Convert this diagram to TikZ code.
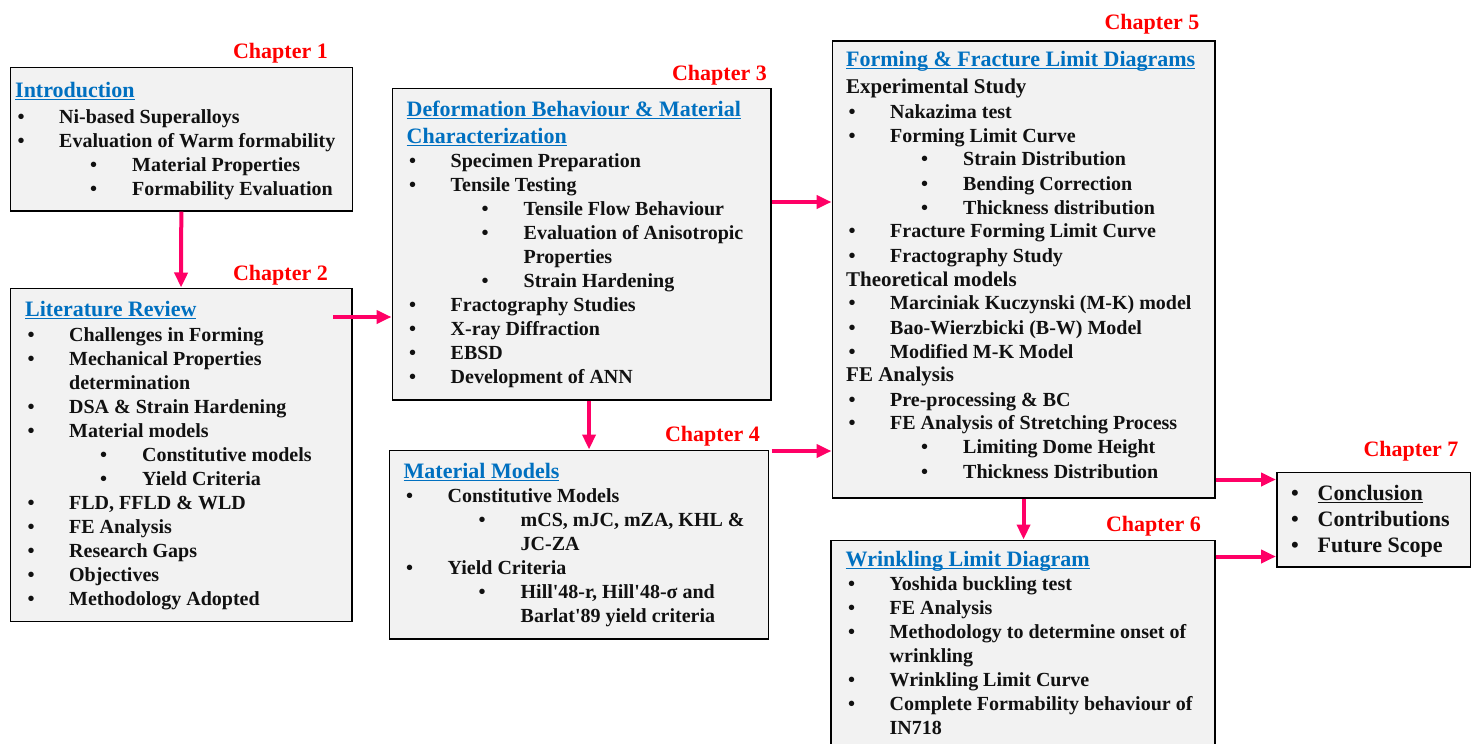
\documentclass[tikz,border=0pt]{standalone}
\usepackage{fontspec}
\setmainfont{Liberation Serif}
\usetikzlibrary{arrows.meta}

\definecolor{boxgray}{HTML}{F2F2F2}
\definecolor{titleblue}{HTML}{0070C0}
\definecolor{chapred}{HTML}{FF0000}
\definecolor{linkpink}{HTML}{FF0066}
\definecolor{ink}{HTML}{111111}

% fonts for the outline boxes
\newcommand\bodyfont{\fontsize{20}{24}\selectfont\bfseries}
\newcommand\titlefont{\fontsize{22}{24}\selectfont\bfseries\color{titleblue}}
\newcommand\hdrfont{\fontsize{21}{24}\selectfont\bfseries}

% underline sitting close to the baseline
\newsavebox\ulbox
\newcommand\ulin[1]{\sbox\ulbox{#1}\rlap{\rule[-2.8pt]{\wd\ulbox}{1.3pt}}\usebox\ulbox}
\newcommand\ttl[1]{{\titlefont\ulin{#1}}}
\newcommand\hdr[1]{{\hdrfont #1}}
% bullet levels and continuation lines
\newcommand\bl[1]{\hspace*{2.5pt}\makebox[41.5pt][l]{\textbullet}#1}
\newcommand\sbl[1]{\hspace*{75pt}\makebox[42pt][l]{\textbullet}#1}
\newcommand\cnt[1]{\hspace*{44pt}#1}
\newcommand\scnt[1]{\hspace*{117pt}#1}
\newcommand\apos{\textquotesingle}

\begin{document}
\begin{tikzpicture}[x=1pt,y=-1pt,
  box/.style={draw=black, line width=1.6pt, fill=boxgray, inner sep=0pt, anchor=north west},
  txt/.style={anchor=base west, inner sep=0pt, text=ink, font=\bodyfont},
  chap/.style={anchor=base east, inner sep=0pt, text=chapred, font=\fontsize{22}{24}\selectfont\bfseries},
  arr/.style={draw=linkpink, line width=4pt, -{Triangle[length=15pt,width=13pt]}}]
\useasboundingbox (0,0) rectangle (1478,744);
\clip (0,0) rectangle (1478,744);

% ---------- boxes ----------
\node[box, minimum width=342pt,   minimum height=143.5pt] (b1) at (9.5,66.5) {};
\node[box, minimum width=341.5pt, minimum height=333pt]   (b2) at (9.5,287.5) {};
\node[box, minimum width=378.5pt, minimum height=311.5pt] (b3) at (391.5,87.5) {};
\node[box, minimum width=379pt,   minimum height=188.5pt] (b4) at (388.5,449.5) {};
\node[box, minimum width=382.5pt, minimum height=457pt]   (b5) at (831.5,40) {};
\node[box, minimum width=384pt,   minimum height=220pt]   (b6) at (830,539.5) {};
\node[box, minimum width=193.5pt, minimum height=94.5pt]  (b7) at (1276,471.5) {};

% ---------- chapter labels ----------
\node[chap] (c1) at (328,58.5)    {Chapter 1};
\node[chap] (c2) at (328,280.5)   {Chapter 2};
\node[chap] (c3) at (767,80)      {Chapter 3};
\node[chap] (c4) at (760,441.5)   {Chapter 4};
\node[chap] (c5) at (1199.5,29)   {Chapter 5};
\node[chap] (c6) at (1201,531.5)  {Chapter 6};
\node[chap] (c7) at (1458.5,456.5){Chapter 7};

% ---------- box contents ----------
\node[txt] (t1) at (15,97.5) {\begin{tabular}[t]{@{}l@{}}
\ttl{Introduction}\\[1.5pt]
\bl{Ni-based Superalloys}\\
\bl{Evaluation of Warm formability}\\
\sbl{Material Properties}\\
\sbl{Formability Evaluation}
\end{tabular}};

\node[txt] (t2) at (25,316.5) {\begin{tabular}[t]{@{}l@{}}
\ttl{Literature Review}\\[0.5pt]
\bl{Challenges in Forming}\\
\bl{Mechanical Properties}\\
\cnt{determination}\\
\bl{DSA \& Strain Hardening}\\
\bl{Material models}\\
\sbl{Constitutive models}\\
\sbl{Yield Criteria}\\
\bl{FLD, FFLD \& WLD}\\
\bl{FE Analysis}\\
\bl{Research Gaps}\\
\bl{Objectives}\\
\bl{Methodology Adopted}
\end{tabular}};

\node[txt] (t3) at (406.5,116.5) {\begin{tabular}[t]{@{}l@{}}
\ttl{Deformation Behaviour \& Material}\\[3pt]
\ttl{Characterization}\\[-0.5pt]
\bl{Specimen Preparation}\\
\bl{Tensile Testing}\\
\sbl{Tensile Flow Behaviour}\\
\sbl{Evaluation of Anisotropic}\\
\scnt{Properties}\\
\sbl{Strain Hardening}\\
\bl{Fractography Studies}\\
\bl{X-ray Diffraction}\\
\bl{EBSD}\\
\bl{Development of ANN}
\end{tabular}};

\node[txt] (t4) at (403.5,478.5) {\begin{tabular}[t]{@{}l@{}}
\ttl{Material Models}\\
\bl{Constitutive Models}\\
\sbl{mCS, mJC, mZA, KHL \&}\\
\scnt{JC-ZA}\\
\bl{Yield Criteria}\\
\sbl{Hill\apos48-r, Hill\apos48-σ and}\\
\scnt{Barlat\apos89 yield criteria}
\end{tabular}};

\node[txt] (t5) at (846,66.5) {\begin{tabular}[t]{@{}l@{}}
\ttl{Forming \& Fracture Limit Diagrams}\\[2.5pt]
\hdr{Experimental Study}\\[1pt]
\bl{Nakazima test}\\
\bl{Forming Limit Curve}\\
\sbl{Strain Distribution}\\
\sbl{Bending Correction}\\
\sbl{Thickness distribution}\\
\bl{Fracture Forming Limit Curve}\\
\bl{Fractography Study}\\
\hdr{Theoretical models}\\
\bl{Marciniak Kuczynski (M-K) model}\\
\bl{Bao-Wierzbicki (B-W) Model}\\
\bl{Modified M-K Model}\\
\hdr{FE Analysis}\\
\bl{Pre-processing \& BC}\\
\bl{FE Analysis of Stretching Process}\\
\sbl{Limiting Dome Height}\\
\sbl{Thickness Distribution}
\end{tabular}};

\node[txt] (t6) at (845.5,566.5) {\begin{tabular}[t]{@{}l@{}}
\ttl{Wrinkling Limit Diagram}\\
\bl{Yoshida buckling test}\\
\bl{FE Analysis}\\
\bl{Methodology to determine onset of}\\
\cnt{wrinkling}\\
\bl{Wrinkling Limit Curve}\\
\bl{Complete Formability behaviour of}\\
\cnt{IN718}
\end{tabular}};

\node[txt, font=\fontsize{22}{26}\selectfont\bfseries] (t7) at (1291,500) {\begin{tabular}[t]{@{}l@{}}
\makebox[26.5pt][l]{\textbullet}\ulin{Conclusion}\\
\makebox[26.5pt][l]{\textbullet}Contributions\\
\makebox[26.5pt][l]{\textbullet}Future Scope
\end{tabular}};

% ---------- connectors ----------
\coordinate (s23) at (333,317);
\draw[arr] (b1.south) -- (b2.north);
\draw[arr] (s23) -- (s23 -| b3.west);
\draw[arr] ([xshift=7.5pt]b3.south) -- ([xshift=7.5pt]b3.south |- b4.north);
\draw[arr] (b3.east |- 0,202) -- (b5.west |- 0,202);
\draw[arr] ([xshift=2.5pt]b4.east |- 0,451) -- (b5.west |- 0,451);
\draw[arr] (b5.south) -- (b5.south |- b6.north);
\draw[arr] (b5.east |- 0,479.5) -- (b7.west |- 0,479.5);
\draw[arr] (b6.east |- 0,556.5) -- (b7.west |- 0,556.5);
\end{tikzpicture}
\end{document}
